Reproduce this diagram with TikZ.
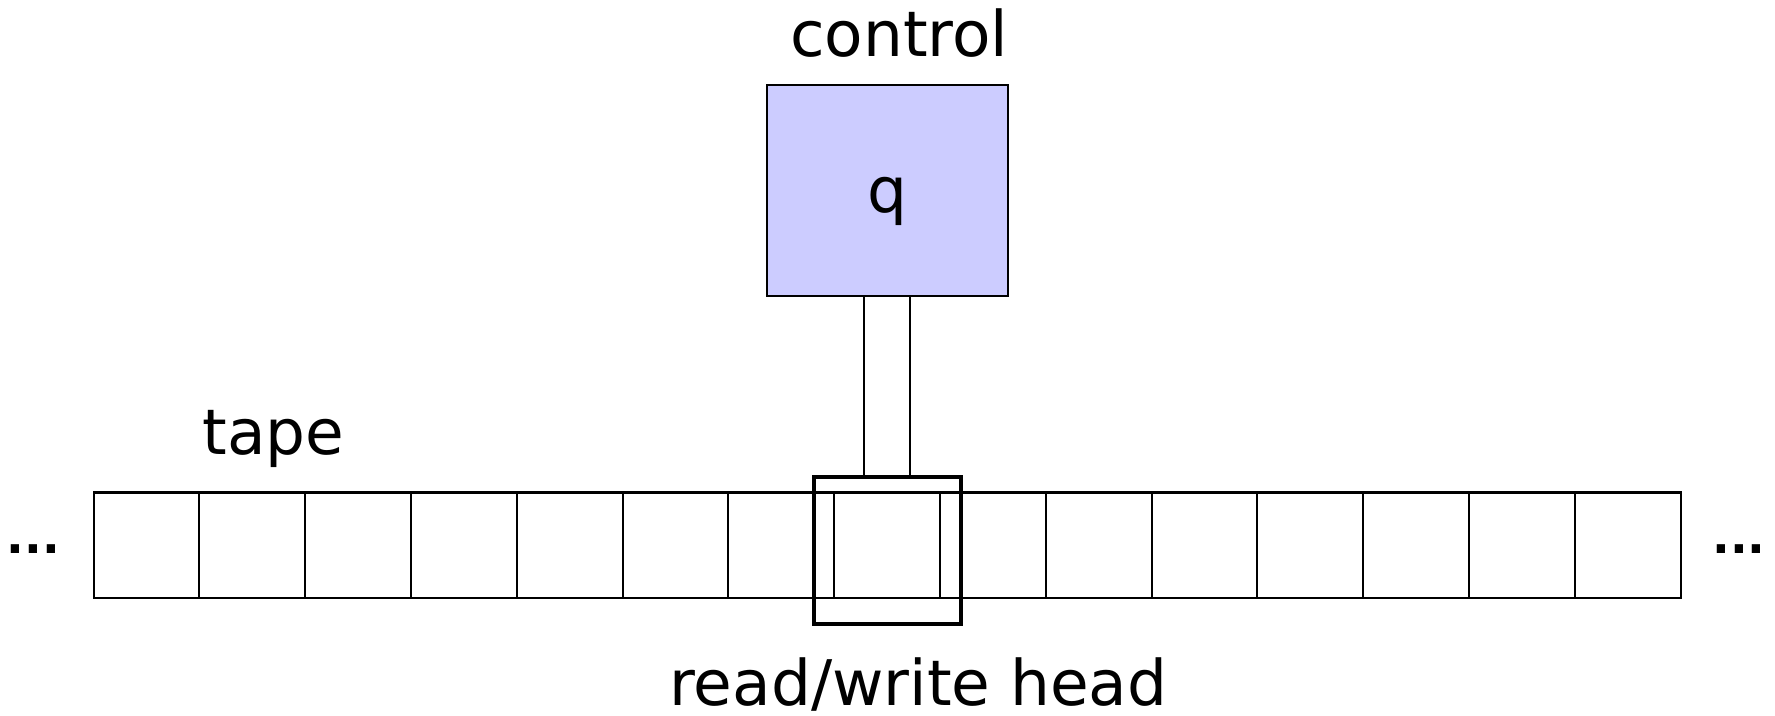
\documentclass[tikz,border=0pt]{standalone}
\usepackage{fontspec}
\setmainfont{DejaVu Sans}
\usetikzlibrary{positioning}
\definecolor{ctrlblue}{HTML}{CCCCFF}
\tikzset{
	cell/.style={
		rectangle,
		draw,
		line width=0.6pt,
		minimum size=1.058cm,
		inner sep=0pt,
		outer sep=0pt
	},
	headbox/.style={
		rectangle,
		draw,
		line width=1.1pt,
		minimum width=1.47cm,
		minimum height=1.47cm,
		inner sep=0pt,
		outer sep=0pt
	},
	controlbox/.style={
		rectangle,
		draw,
		fill=ctrlblue,
		line width=0.6pt,
		minimum width=2.41cm,
		minimum height=2.11cm,
		inner sep=0pt,
		outer sep=0pt
	},
	caption/.style={
		anchor=base,
		inner sep=0pt,
		font=\fontsize{17.9}{21}\selectfont
	},
	dots/.style={
		anchor=base,
		inner sep=0pt,
		font=\fontsize{13.3}{15}\selectfont\bfseries
	}
}
\begin{document}
\begin{tikzpicture}
		\useasboundingbox (0,0) rectangle (17.75,-7.15);
		\draw node[cell](Cell1) at (1.465,-5.454){};
		\foreach \j [count=\i from 2] in {1,...,14}
			\draw node[cell, right=0pt of Cell\j](Cell\i){};
		\draw node[headbox](Head) at ([yshift=-0.05cm]Cell8.center){};
		\draw node[controlbox, above=1.807cm of Head](Control){};
		
		\draw node[caption](StateLabel) at ([yshift=-0.222cm]Control.center){q};
		\draw node[caption](ControlLabel) at ([xshift=0.12cm, yshift=0.283cm]Control.north){control};
		\draw node[caption](TapeLabel) at ([xshift=0.21cm, yshift=0.377cm]Cell2.north){tape};
		\draw node[caption](HeadLabel) at ([xshift=0.313cm, yshift=-0.82cm]Head.south){read/write head};
		\draw node[dots](LeftDots) at ([xshift=-0.6cm, yshift=-0.076cm]Cell1.west){...};
		\draw node[dots](RightDots) at ([xshift=0.584cm, yshift=-0.076cm]Cell15.east){...};
		
		\draw [line width=0.6pt] ([xshift=-0.23cm]Control.south) -- ([xshift=-0.23cm]Head.north);
		\draw [line width=0.6pt] ([xshift=0.23cm]Control.south) -- ([xshift=0.23cm]Head.north);
	\end{tikzpicture}
\end{document}
